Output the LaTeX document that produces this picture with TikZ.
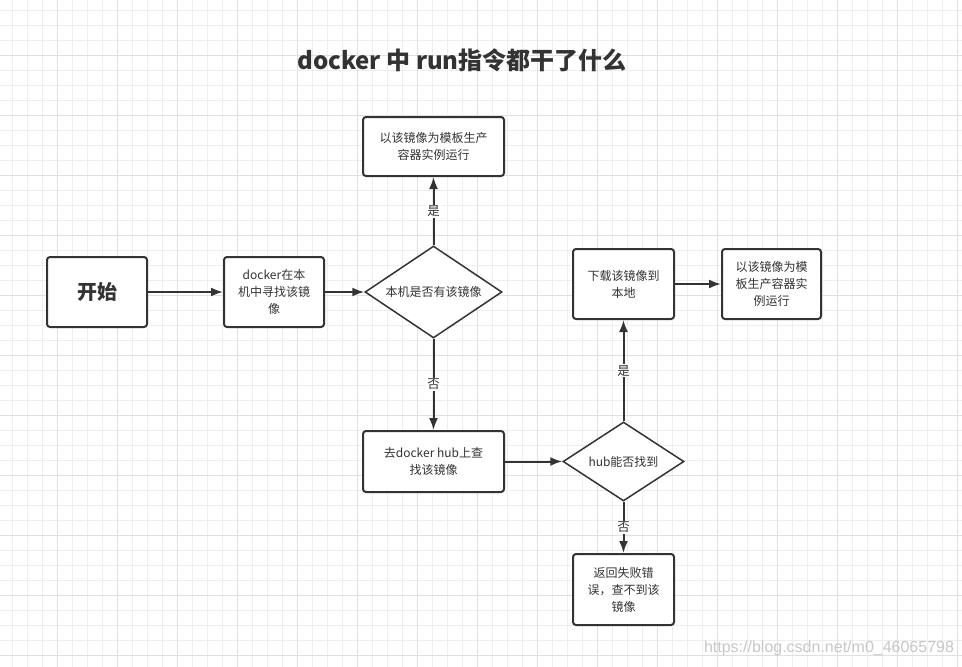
\documentclass[tikz,border=0pt]{standalone}
\usepackage{fontspec}
\setmainfont{Noto Sans CJK SC}
\newfontfamily\wmfont{Liberation Sans}
\usetikzlibrary{arrows.meta,shapes.geometric}
\definecolor{ink}{HTML}{333333}
\definecolor{gminor}{HTML}{EEEEEE}
\definecolor{gmajor}{HTML}{E0E0E0}
\tikzset{
  box/.style={draw=ink,line width=2pt,rounded corners=3pt,fill=white,inner sep=0pt,align=center,text=ink,font=\fontsize{12}{17}\selectfont},
  dia/.style={draw=ink,line width=1.5pt,diamond,fill=white,inner sep=0pt},
  dtext/.style={text=ink,font=\fontsize{12}{17}\selectfont},
  conn/.style={draw=ink,line width=2pt,-{Latex[length=12pt,width=9pt]}},
  lbl/.style={fill=white,text=ink,inner sep=1pt,font=\fontsize{12.5}{14}\selectfont},
  minorline/.style={draw=gminor,line width=1pt},
  majorline/.style={draw=gmajor,line width=1pt}
}
\begin{document}
\begin{tikzpicture}[x=1pt,y=-1pt]
\useasboundingbox[fill=white] (0,0) rectangle (962,667);
\foreach \x in {12,27,...,962} \draw[minorline] (\x,0) -- (\x,667);
\foreach \y in {10,25,...,667} \draw[minorline] (0,\y) -- (962,\y);
\foreach \x in {57,117,...,962} \draw[majorline] (\x,0) -- (\x,667);
\foreach \y in {55,115,...,667} \draw[majorline] (0,\y) -- (962,\y);

\node[text=ink,font=\fontsize{24}{28}\selectfont\bfseries] (title) at (462,60) {docker 中 run指令都干了什么};

\node[box,minimum width=100pt,minimum height=70pt,font=\fontsize{20}{24}\selectfont\bfseries] (start) at (97,292) {开始};
\node[box,minimum width=100pt,minimum height=70pt] (find) at (274,292) {docker在本\\机中寻找该镜\\像};
\node[dia,minimum width=137pt,minimum height=92pt] (d1) at (433.5,292) {};
\node[dtext] (d1t) at (d1) {本机是否有该镜像};
\node[box,minimum width=141pt,minimum height=59pt] (run1) at (433.5,146.5) {以该镜像为模板生产\\容器实例运行};
\node[box,minimum width=141pt,minimum height=61pt] (hub) at (433.5,461.5) {去docker hub上查\\找该镜像};
\node[dia,minimum width=121pt,minimum height=79pt] (d2) at (623.5,461.5) {};
\node[dtext] (d2t) at (d2) {hub能否找到};
\node[box,minimum width=101pt,minimum height=70pt] (dl) at (623.5,284) {下载该镜像到\\本地};
\node[box,minimum width=99pt,minimum height=70pt] (run2) at (771.5,284) {以该镜像为模\\板生产容器实\\例运行};
\node[box,minimum width=101pt,minimum height=71pt] (fail) at (623.5,589.5) {返回失败错\\误，查不到该\\镜像};

\draw[conn] (start) -- (find);
\draw[conn] (find) -- (d1.west);
\draw[conn] (d1.north) -- node[lbl] {是} (run1);
\draw[conn] (d1.south) -- node[lbl] {否} (hub);
\draw[conn] (hub) -- (d2.west);
\draw[conn] (d2.north) -- node[lbl] {是} (dl);
\draw[conn] (dl) -- (run2);
\draw[conn] (d2.south) -- node[lbl] {否} (fail);

\node[text=black!22,font=\wmfont\fontsize{16}{18}\selectfont] (wm) at (829,648) {https://blog.csdn.net/m0\_46065798};
\end{tikzpicture}
\end{document}
